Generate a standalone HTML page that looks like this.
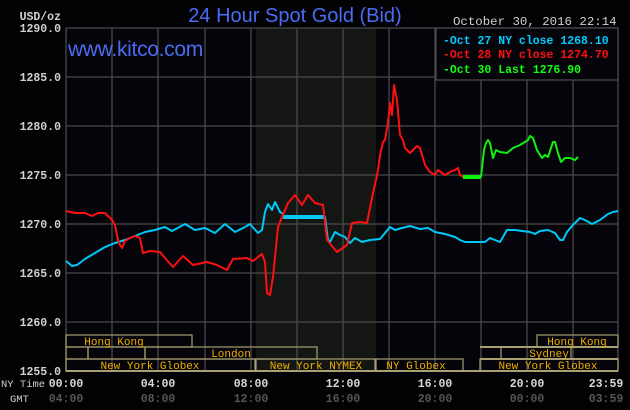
<!DOCTYPE html>
<html><head><style>
body{margin:0;background:#000;}
svg{display:block;font-family:"Liberation Mono",monospace;}
</style></head><body>
<svg width="630" height="410" viewBox="0 0 630 410" xmlns="http://www.w3.org/2000/svg">
<rect width="630" height="410" fill="#020205"/>
<rect x="66" y="28" width="552" height="343" fill="#04040a"/>
<rect x="256" y="28" width="120" height="343" fill="#141614"/>
<g stroke="#4a4a4a" stroke-width="1.3">
<line x1="66" y1="28" x2="618" y2="28"/><line x1="66" y1="77" x2="618" y2="77"/><line x1="66" y1="126" x2="618" y2="126"/><line x1="66" y1="175" x2="618" y2="175"/><line x1="66" y1="224" x2="618" y2="224"/><line x1="66" y1="273" x2="618" y2="273"/><line x1="66" y1="322" x2="618" y2="322"/><line x1="66" y1="371" x2="618" y2="371"/>
<line x1="66" y1="28" x2="66" y2="371"/><line x1="112" y1="28" x2="112" y2="371"/><line x1="158" y1="28" x2="158" y2="371"/><line x1="205" y1="28" x2="205" y2="371"/><line x1="251" y1="28" x2="251" y2="371"/><line x1="297" y1="28" x2="297" y2="371"/><line x1="343" y1="28" x2="343" y2="371"/><line x1="389" y1="28" x2="389" y2="371"/><line x1="435" y1="28" x2="435" y2="371"/><line x1="481" y1="28" x2="481" y2="371"/><line x1="527" y1="28" x2="527" y2="371"/><line x1="573" y1="28" x2="573" y2="371"/><line x1="618" y1="28" x2="618" y2="371"/>
</g>
<rect x="436" y="28" width="182" height="52" fill="#04040a" stroke="#4a4a4a" stroke-width="1.3"/>
<g font-size="11.5" font-weight="bold">
<text x="443" y="44" fill="#00ccff">-Oct 27 NY close 1268.10</text>
<text x="443" y="58" fill="#ff1010">-Oct 28 NY close 1274.70</text>
<text x="443" y="73" fill="#10ff10">-Oct 30 Last 1276.90</text>
</g>
<text x="453" y="25" fill="#d0d0d0" font-size="12.4">October 30, 2016 22:14</text>
<text x="295" y="22" fill="#4a6cf0" font-size="20" text-anchor="middle" font-family="Liberation Sans, sans-serif">24 Hour Spot Gold (Bid)</text>
<text x="68" y="56" fill="#4a6cf0" font-size="21" font-family="Liberation Sans, sans-serif" letter-spacing="-0.3">www.kitco.com</text>
<g fill="#d0d0d0" font-size="11.5" text-anchor="end" font-weight="bold">
<text x="61" y="20" text-anchor="end">USD/oz</text>
<text x="61" y="32">1290.0</text><text x="61" y="81">1285.0</text><text x="61" y="130">1280.0</text><text x="61" y="179">1275.0</text><text x="61" y="228">1270.0</text><text x="61" y="277">1265.0</text><text x="61" y="326">1260.0</text><text x="61" y="375">1255.0</text>
</g>
<g fill="none" stroke="#a8a070" stroke-width="1.2">
<rect x="66" y="335" width="126" height="12"/>
<rect x="537" y="335" width="81" height="12"/>
<rect x="66" y="347" width="22" height="12"/><rect x="88" y="347" width="57" height="12"/><rect x="145" y="347" width="172" height="12"/>
<rect x="501" y="347" width="70" height="12"/>
<rect x="66" y="359" width="189" height="12"/><rect x="256" y="359" width="119" height="12"/><rect x="376" y="359" width="87" height="12"/><rect x="480" y="359" width="138" height="12"/>
</g>
<g stroke="#a8a070" stroke-width="2"><line x1="66" y1="371" x2="618" y2="371"/><line x1="480" y1="347" x2="618" y2="347"/><line x1="480" y1="359" x2="618" y2="359"/></g>
<g fill="#f0b000" font-size="11" text-anchor="middle">
<text x="114" y="345">Hong Kong</text><text x="577" y="345">Hong Kong</text>
<text x="231" y="357">London</text><text x="549" y="357">Sydney</text>
<text x="150" y="369">New York Globex</text><text x="316" y="369">New York NYMEX</text><text x="416" y="369">NY Globex</text><text x="548" y="369">New York Globex</text>
</g>
<g font-size="11.5" font-weight="bold" fill="#d8d8d8" text-anchor="middle">
<text x="66" y="387">00:00</text><text x="158" y="387">04:00</text><text x="251" y="387">08:00</text><text x="343" y="387">12:00</text><text x="435" y="387">16:00</text><text x="527" y="387">20:00</text><text x="606" y="387">23:59</text>
</g>
<g font-size="11.5" font-weight="bold" fill="#555" text-anchor="middle">
<text x="66" y="402">04:00</text><text x="158" y="402">08:00</text><text x="251" y="402">12:00</text><text x="343" y="402">16:00</text><text x="435" y="402">20:00</text><text x="527" y="402">00:00</text><text x="606" y="402">03:59</text>
</g>
<text x="1" y="387" fill="#d0d0d0" font-size="10.5">NY Time</text>
<text x="10" y="402" fill="#d0d0d0" font-size="10.5">GMT</text>
<g fill="none" stroke-width="2" stroke-linejoin="round">
<polyline stroke="#00c8f8" points="66,261 72,266 77,265 85,259 95,253 105,247 115,243 125,240 135,236 145,232 155,230 165,227 172,231 185,224 195,230 205,228 215,233 225,224 235,232 245,227 250,224 258,233 262,230 265,212 268,204 272,210 275,202 280,212 283,214 283,217 325,217 328,240 330,242 335,232 340,235 345,237 350,243 355,238 362,242 370,240 380,239 390,227 395,230 402,228 410,226 420,229 428,228 435,232 445,234 455,237 460,240 465,242 485,242 490,238 495,240 500,242 507,230 515,230 522,231 530,232 535,234 540,231 548,230 555,233 560,240 563,240 567,232 572,226 580,218 585,220 592,224 600,220 608,214 613,212 618,211"/>
<line x1="283" y1="217" x2="325" y2="217" stroke="#00c8f8" stroke-width="4"/>
<polyline stroke="#ff1010" points="66,211 75,213 85,213 92,216 98,213 105,213 112,220 115,225 118,240 120,245 122,248 125,241 130,238 135,236 140,238 143,253 150,251 160,252 165,258 173,267 183,256 193,265 207,262 217,265 227,270 233,259 247,258 253,261 262,254 265,262 267,293 270,295 273,277 278,227 282,217 288,203 295,195 302,205 308,195 315,203 323,205 327,240 337,252 347,245 352,223 360,222 367,223 373,193 376,180 378,170 380,155 383,142 385,140 388,122 390,103 392,115 394,85 397,100 400,135 403,140 405,148 410,153 413,150 417,146 420,148 425,165 430,172 435,175 438,170 445,175 450,172 455,170 458,168 460,175 463,177"/>
<polyline stroke="#10f010" points="481,177 484,150 486,143 488,140 490,143 493,158 496,150 500,152 507,153 513,148 520,145 528,140 530,136 533,138 537,150 542,158 545,155 548,157 553,142 555,142 558,153 561,162 565,158 570,158 575,160 578,157"/>
<line x1="463" y1="177" x2="481" y2="177" stroke="#10f010" stroke-width="4"/>
</g>
</svg>
</body></html>
